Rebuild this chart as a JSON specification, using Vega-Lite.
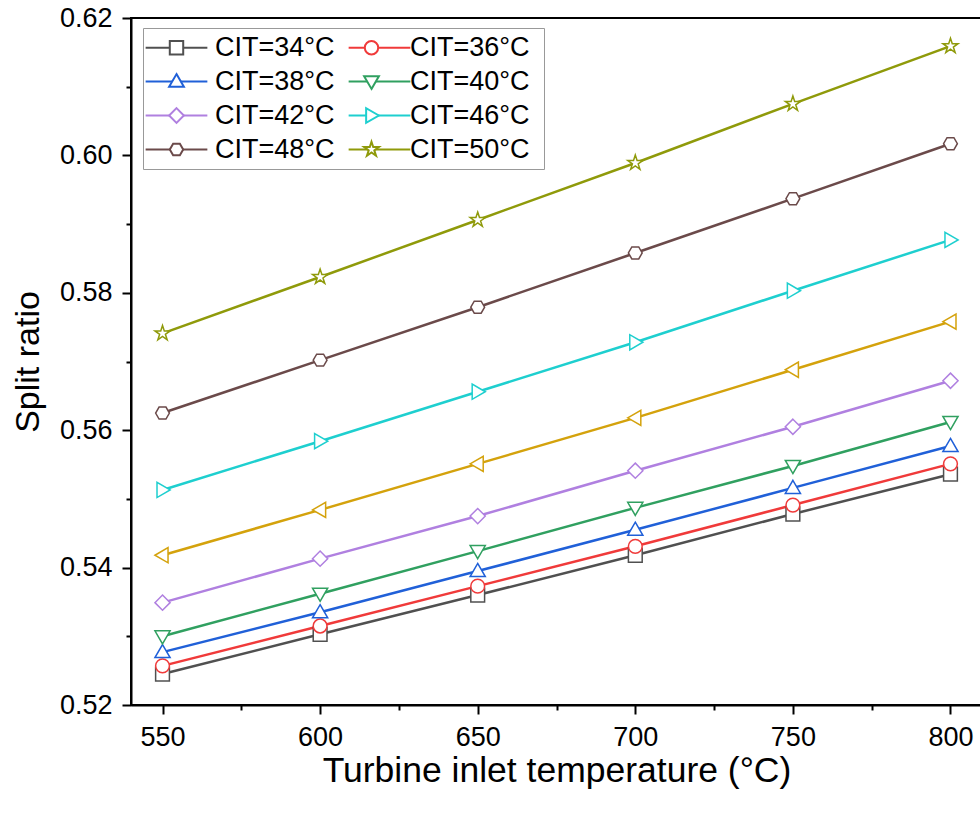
{
  "$schema": "https://vega.github.io/schema/vega-lite/v6.json",
  "width": 851,
  "height": 687,
  "autosize": "none",
  "padding": {"left": 131, "top": 18, "right": 0, "bottom": 111},
  "background": "white",
  "config": {
    "view": {"stroke": "black", "strokeWidth": 2},
    "font": "Liberation Sans"
  },
  "data": {
    "values": [
      {"T": 550, "CIT": "CIT=34°C", "r": 0.5245}, {"T": 600, "CIT": "CIT=34°C", "r": 0.5303}, {"T": 650, "CIT": "CIT=34°C", "r": 0.5360}, {"T": 700, "CIT": "CIT=34°C", "r": 0.5418}, {"T": 750, "CIT": "CIT=34°C", "r": 0.5478}, {"T": 800, "CIT": "CIT=34°C", "r": 0.5536},
      {"T": 550, "CIT": "CIT=36°C", "r": 0.5257}, {"T": 600, "CIT": "CIT=36°C", "r": 0.5315}, {"T": 650, "CIT": "CIT=36°C", "r": 0.5373}, {"T": 700, "CIT": "CIT=36°C", "r": 0.5431}, {"T": 750, "CIT": "CIT=36°C", "r": 0.5491}, {"T": 800, "CIT": "CIT=36°C", "r": 0.5551},
      {"T": 550, "CIT": "CIT=38°C", "r": 0.5277}, {"T": 600, "CIT": "CIT=38°C", "r": 0.5335}, {"T": 650, "CIT": "CIT=38°C", "r": 0.5395}, {"T": 700, "CIT": "CIT=38°C", "r": 0.5455}, {"T": 750, "CIT": "CIT=38°C", "r": 0.5516}, {"T": 800, "CIT": "CIT=38°C", "r": 0.5577},
      {"T": 550, "CIT": "CIT=40°C", "r": 0.5300}, {"T": 600, "CIT": "CIT=40°C", "r": 0.5362}, {"T": 650, "CIT": "CIT=40°C", "r": 0.5424}, {"T": 700, "CIT": "CIT=40°C", "r": 0.5487}, {"T": 750, "CIT": "CIT=40°C", "r": 0.5548}, {"T": 800, "CIT": "CIT=40°C", "r": 0.5612},
      {"T": 550, "CIT": "CIT=42°C", "r": 0.5349}, {"T": 600, "CIT": "CIT=42°C", "r": 0.5413}, {"T": 650, "CIT": "CIT=42°C", "r": 0.5475}, {"T": 700, "CIT": "CIT=42°C", "r": 0.5541}, {"T": 750, "CIT": "CIT=42°C", "r": 0.5605}, {"T": 800, "CIT": "CIT=42°C", "r": 0.5672},
      {"T": 550, "CIT": "CIT=44°C", "r": 0.5418}, {"T": 600, "CIT": "CIT=44°C", "r": 0.5484}, {"T": 650, "CIT": "CIT=44°C", "r": 0.5551}, {"T": 700, "CIT": "CIT=44°C", "r": 0.5618}, {"T": 750, "CIT": "CIT=44°C", "r": 0.5688}, {"T": 800, "CIT": "CIT=44°C", "r": 0.5758},
      {"T": 550, "CIT": "CIT=46°C", "r": 0.5513}, {"T": 600, "CIT": "CIT=46°C", "r": 0.5584}, {"T": 650, "CIT": "CIT=46°C", "r": 0.5656}, {"T": 700, "CIT": "CIT=46°C", "r": 0.5728}, {"T": 750, "CIT": "CIT=46°C", "r": 0.5803}, {"T": 800, "CIT": "CIT=46°C", "r": 0.5877},
      {"T": 550, "CIT": "CIT=48°C", "r": 0.5625}, {"T": 600, "CIT": "CIT=48°C", "r": 0.5702}, {"T": 650, "CIT": "CIT=48°C", "r": 0.5779}, {"T": 700, "CIT": "CIT=48°C", "r": 0.5858}, {"T": 750, "CIT": "CIT=48°C", "r": 0.5937}, {"T": 800, "CIT": "CIT=48°C", "r": 0.6017},
      {"T": 550, "CIT": "CIT=50°C", "r": 0.5741}, {"T": 600, "CIT": "CIT=50°C", "r": 0.5823}, {"T": 650, "CIT": "CIT=50°C", "r": 0.5906}, {"T": 700, "CIT": "CIT=50°C", "r": 0.5989}, {"T": 750, "CIT": "CIT=50°C", "r": 0.6075}, {"T": 800, "CIT": "CIT=50°C", "r": 0.6159}
    ]
  },
  "encoding": {
    "x": {
      "field": "T", "type": "quantitative",
      "scale": {"domain": [540, 810], "nice": false, "zero": false},
      "axis": {
        "title": "Turbine inlet temperature (°C)",
        "values": [550, 575, 600, 625, 650, 675, 700, 725, 750, 775, 800],
        "labelExpr": "datum.value % 50 === 0 ? datum.label : ''",
        "tickSize": {"condition": {"test": "datum.value % 50 === 0", "value": 9}, "value": 5},
        "tickColor": "black", "tickWidth": 2,
        "domainColor": "black", "domainWidth": 2,
        "grid": false,
        "labelFont": "Liberation Sans", "labelFontSize": 27, "labelColor": "black", "labelPadding": 10,
        "titleFont": "Liberation Sans", "titleFontSize": 35.5, "titleFontWeight": "normal", "titleColor": "black", "titlePadding": 3
      }
    },
    "y": {
      "field": "r", "type": "quantitative",
      "scale": {"domain": [0.52, 0.62], "nice": false, "zero": false},
      "axis": {
        "title": "Split ratio",
        "values": [0.52, 0.53, 0.54, 0.55, 0.56, 0.57, 0.58, 0.59, 0.60, 0.61, 0.62],
        "labelExpr": "round(datum.value * 100) % 2 === 0 ? format(datum.value, '.2f') : ''",
        "tickSize": {"condition": {"test": "round(datum.value * 100) % 2 === 0", "value": 9}, "value": 5},
        "tickColor": "black", "tickWidth": 2,
        "domainColor": "black", "domainWidth": 2,
        "grid": false,
        "labelFont": "Liberation Sans", "labelFontSize": 27, "labelColor": "black", "labelPadding": 10,
        "titleFont": "Liberation Sans", "titleFontSize": 34, "titleFontWeight": "normal", "titleColor": "black", "titlePadding": 14
      }
    }
  },
  "layer": [
    {
      "mark": {"type": "line", "strokeWidth": 2.5},
      "encoding": {
        "color": {
          "field": "CIT", "type": "nominal",
          "scale": {
            "domain": ["CIT=50°C", "CIT=48°C", "CIT=46°C", "CIT=44°C", "CIT=42°C", "CIT=40°C", "CIT=38°C", "CIT=36°C", "CIT=34°C"],
            "range": ["#8f9a0a", "#6b4a4a", "#1ecfcf", "#d4a20c", "#b080e0", "#30a060", "#2060d8", "#f03a3a", "#505050"]
          },
          "legend": {
            "title": null,
            "values": ["CIT=34°C", "CIT=36°C", "CIT=38°C", "CIT=40°C", "CIT=42°C", "CIT=46°C", "CIT=48°C", "CIT=50°C"],
            "columns": 2,
            "direction": "horizontal",
            "orient": "none",
            "legendX": 12,
            "legendY": 10,
            "padding": 6,
            "strokeColor": "#999999",
            "fillColor": "white",
            "labelFont": "Liberation Sans",
            "labelFontSize": 27,
            "labelColor": "black",
            "labelOpacity": 0,
            "symbolType": "M-4.6,0L4.6,0",
            "symbolSize": 180,
            "symbolStrokeWidth": 2,
            "symbolOpacity": 1,
            "symbolOffset": 14,
            "labelOffset": 25,
            "rowPadding": 6,
            "columnPadding": 9
          }
        }
      }
    },
    {
      "mark": {"type": "point", "filled": false, "fill": "white", "strokeWidth": 1.5, "size": 190, "opacity": 1},
      "encoding": {
        "stroke": {
          "field": "CIT", "type": "nominal",
          "legend": null,
          "scale": {
            "domain": ["CIT=34°C", "CIT=36°C", "CIT=38°C", "CIT=40°C", "CIT=42°C", "CIT=44°C", "CIT=46°C", "CIT=48°C", "CIT=50°C"],
            "range": ["#505050", "#f03a3a", "#2060d8", "#30a060", "#b080e0", "#d4a20c", "#1ecfcf", "#6b4a4a", "#8f9a0a"]
          }
        },
        "shape": {
          "field": "CIT", "type": "nominal",
          "scale": {
            "domain": ["CIT=34°C", "CIT=36°C", "CIT=38°C", "CIT=40°C", "CIT=42°C", "CIT=44°C", "CIT=46°C", "CIT=48°C", "CIT=50°C"],
            "range": [
              "M-1,-1L1,-1L1,1L-1,1Z",
              "M1,0A1,1 0 1,1 -1,0A1,1 0 1,1 1,0Z",
              "M0,-1.1L1.1,0.8L-1.1,0.8Z",
              "M0,1.1L1.1,-0.8L-1.1,-0.8Z",
              "M0,-1.1L1.1,0L0,1.1L-1.1,0Z",
              "M-1.1,0L0.8,-1.1L0.8,1.1Z",
              "M1.1,0L-0.8,-1.1L-0.8,1.1Z",
              "M-1,0L-0.5,-0.87L0.5,-0.87L1,0L0.5,0.87L-0.5,0.87Z",
              "M0,-1.15L0.259,-0.356L1.094,-0.355L0.418,0.136L0.676,0.93L0,0.44L-0.676,0.93L-0.418,0.136L-1.094,-0.355L-0.259,-0.356Z"
            ]
          },
          "legend": {
            "title": null,
            "values": ["CIT=34°C", "CIT=36°C", "CIT=38°C", "CIT=40°C", "CIT=42°C", "CIT=46°C", "CIT=48°C", "CIT=50°C"],
            "columns": 2,
            "direction": "horizontal",
            "orient": "none",
            "legendX": 12,
            "legendY": 10,
            "padding": 6,
            "strokeColor": "transparent",
            "fillColor": "transparent",
            "labelFont": "Liberation Sans",
            "labelFontSize": 27,
            "labelColor": "black",
            "symbolSize": 180,
            "symbolStrokeWidth": 2,
            "symbolFillColor": "white",
            "symbolOpacity": 1,
            "symbolOffset": 14,
            "labelOffset": 25,
            "rowPadding": 6,
            "columnPadding": 9
          }
        }
      }
    }
  ]
}
